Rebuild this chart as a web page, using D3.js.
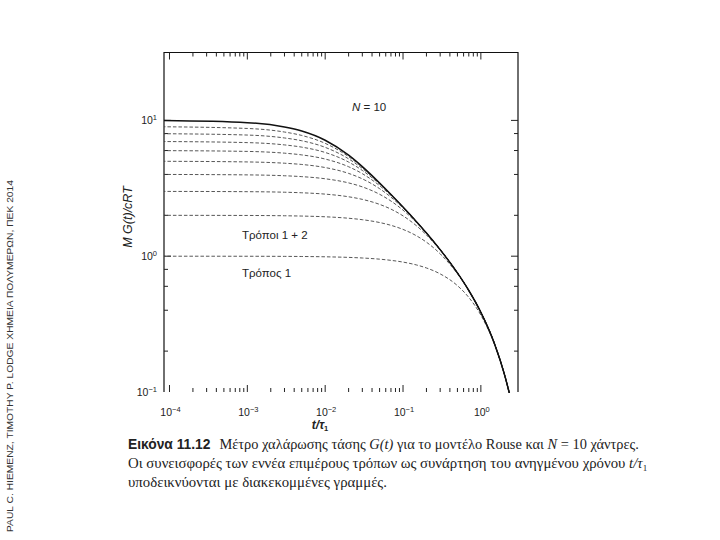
<!DOCTYPE html>
<html>
<head>
<meta charset="utf-8">
<script src="https://cdn.jsdelivr.net/npm/d3@7"></script>
<style>
  body { margin: 0; background: #fff; }
  svg { display: block; }
</style>
</head>
<body>
<svg id="chart" width="720" height="540"></svg>
<script>
// reduced time t/τ1 where the curves were read
const tRatio = [0.00008, 0.001, 0.003, 0.005, 0.01, 0.02, 0.03, 0.05, 0.07, 0.1, 0.15, 0.2, 0.3, 0.5, 0.7, 1, 1.5, 2, 2.5, 3]
// M G(t)/cRT, partial sums of modes 1..k (dashed) and all 10 modes (solid)
const modes1 = [1.00, 0.999, 0.997, 0.995, 0.990, 0.980, 0.970, 0.951, 0.932, 0.905, 0.861, 0.819, 0.741, 0.607, 0.497, 0.368, 0.223, 0.135, 0.082, 0.050]
const modes2 = [2.00, 1.995, 1.985, 1.975, 1.951, 1.903, 1.857, 1.770, 1.688, 1.575, 1.410, 1.268, 1.042, 0.742, 0.557, 0.386, 0.226, 0.136, 0.082, 0.050]
const modes3 = [3.00, 2.986, 2.959, 2.931, 2.865, 2.739, 2.621, 2.408, 2.221, 1.982, 1.669, 1.433, 1.109, 0.753, 0.559, 0.386, 0.226, 0.136, 0.082, 0.050]
const modes4 = [4.00, 3.970, 3.912, 3.854, 3.717, 3.465, 3.240, 2.857, 2.547, 2.184, 1.760, 1.474, 1.117, 0.753, 0.559, 0.386, 0.226, 0.136, 0.082, 0.050]
const modes5 = [5.00, 4.945, 4.839, 4.737, 4.496, 4.071, 3.712, 3.143, 2.721, 2.266, 1.783, 1.481, 1.118, 0.753, 0.559, 0.386, 0.226, 0.136, 0.082, 0.050]
const modes6 = [5.99, 5.910, 5.737, 5.572, 5.193, 4.558, 4.052, 3.309, 2.801, 2.293, 1.788, 1.482, 1.118, 0.753, 0.559, 0.386, 0.226, 0.136, 0.082, 0.050]
const modes7 = [6.99, 6.862, 6.600, 6.355, 5.806, 4.933, 4.282, 3.395, 2.834, 2.300, 1.788, 1.482, 1.118, 0.753, 0.559, 0.386, 0.226, 0.136, 0.082, 0.050]
const modes8 = [7.98, 7.800, 7.425, 7.081, 6.333, 5.211, 4.428, 3.436, 2.845, 2.302, 1.788, 1.482, 1.118, 0.753, 0.559, 0.386, 0.226, 0.136, 0.082, 0.050]
const modes9 = [8.98, 8.722, 8.210, 7.748, 6.778, 5.409, 4.516, 3.453, 2.848, 2.302, 1.788, 1.482, 1.118, 0.753, 0.559, 0.386, 0.226, 0.136, 0.082, 0.050]
const modesAll = [9.97, 9.627, 8.950, 8.355, 7.146, 5.545, 4.566, 3.460, 2.849, 2.302, 1.788, 1.482, 1.118, 0.753, 0.559, 0.386, 0.226, 0.136, 0.082, 0.050]
const dashedSeries = [modes1, modes2, modes3, modes4, modes5, modes6, modes7, modes8, modes9]

// ticks
const xMajor = [1e-4, 1e-3, 1e-2, 1e-1, 1]
const xMajorExp = ['−4', '−3', '−2', '−1', '0']
const xMinorMult = [2, 3, 4, 5, 6, 7, 8, 9]
const yMajor = [10, 1, 0.1]
const yMajorExp = ['1', '0', '−1']
const yMinor = [0.2, 0.4, 0.6, 0.8, 2, 4, 6, 8]

const svg = d3.select('#chart')
const plotLeft = 164
const plotRight = 518
const plotTop = 52.5
const plotBottom = 392

const x = d3.scaleLog().domain([8.5e-5, 3]).range([plotLeft, plotRight])
const y = d3.scaleLog().domain([0.1, Math.pow(10, 1.5)]).range([plotBottom, plotTop])

const sans = 'Liberation Sans, Arial, sans-serif'
const serif = 'Liberation Serif, Times New Roman, serif'

// clip for the curves
svg.append('defs').append('clipPath').attr('id', 'plotClip')
  .append('rect')
  .attr('x', plotLeft).attr('y', plotTop)
  .attr('width', plotRight - plotLeft).attr('height', plotBottom - plotTop + 1)

// frame (no line along the bottom in the original)
svg.append('path')
  .attr('d', `M${plotLeft},${plotBottom}V${plotTop}H${plotRight}V${plotBottom}`)
  .attr('fill', 'none')
  .attr('stroke', '#111')
  .attr('stroke-width', 1.2)

// x ticks, inward on bottom and top
const xMinor = []
xMajor.slice(0, 4).forEach(m => xMinorMult.forEach(k => xMinor.push(m * k)))
const tickG = svg.append('g').attr('stroke', '#222').attr('stroke-width', 1)
xMinor.forEach(v => {
  tickG.append('line').attr('x1', x(v)).attr('x2', x(v)).attr('y1', plotBottom).attr('y2', plotBottom - 4)
  tickG.append('line').attr('x1', x(v)).attr('x2', x(v)).attr('y1', plotTop).attr('y2', plotTop + 4)
})
xMajor.forEach(v => {
  tickG.append('line').attr('x1', x(v)).attr('x2', x(v)).attr('y1', plotBottom).attr('y2', plotBottom - 7)
  tickG.append('line').attr('x1', x(v)).attr('x2', x(v)).attr('y1', plotTop).attr('y2', plotTop + 7)
})
// y ticks, inward on left and right
yMinor.forEach(v => {
  tickG.append('line').attr('x1', plotLeft).attr('x2', plotLeft + 4).attr('y1', y(v)).attr('y2', y(v))
  tickG.append('line').attr('x1', plotRight).attr('x2', plotRight - 4).attr('y1', y(v)).attr('y2', y(v))
})
yMajor.slice(0, 2).forEach(v => {
  tickG.append('line').attr('x1', plotLeft).attr('x2', plotLeft + 7).attr('y1', y(v)).attr('y2', y(v))
  tickG.append('line').attr('x1', plotRight).attr('x2', plotRight - 7).attr('y1', y(v)).attr('y2', y(v))
})

// tick labels
xMajor.forEach((v, i) => {
  const t = svg.append('text')
    .attr('x', x(v) + 1)
    .attr('y', 416)
    .attr('text-anchor', 'middle')
    .attr('font-family', sans)
    .attr('font-size', 10.5)
    .attr('fill', '#222')
  t.append('tspan').text('10')
  t.append('tspan').attr('dy', -4).attr('font-size', 7.5).text(xMajorExp[i])
})
yMajor.forEach((v, i) => {
  const t = svg.append('text')
    .attr('x', 157)
    .attr('y', y(v) + 4)
    .attr('text-anchor', 'end')
    .attr('font-family', sans)
    .attr('font-size', 10.5)
    .attr('fill', '#222')
  t.append('tspan').text('10')
  t.append('tspan').attr('dy', -4).attr('font-size', 7.5).text(yMajorExp[i])
})

// axis titles
const xTitle = svg.append('text')
  .attr('x', 320).attr('y', 429)
  .attr('text-anchor', 'middle')
  .attr('font-family', sans)
  .attr('font-size', 12)
  .attr('font-style', 'italic')
  .attr('font-weight', 'bold')
  .attr('fill', '#222')
xTitle.append('tspan').text('t/τ')
xTitle.append('tspan').attr('dy', 2).attr('font-size', 7.5).attr('font-style', 'normal').text('1')

svg.append('text')
  .attr('transform', 'translate(132,217) rotate(-90)')
  .attr('text-anchor', 'middle')
  .attr('font-family', sans)
  .attr('font-size', 12.5)
  .attr('font-style', 'italic')
  .attr('fill', '#222')
  .text('M G(t)/cRT')

// curves
const line = d3.line()
  .x((d, i) => x(tRatio[i]))
  .y(d => y(d))
  .curve(d3.curveMonotoneX)

const curves = svg.append('g').attr('clip-path', 'url(#plotClip)')
curves.selectAll('.dashed')
  .data(dashedSeries)
  .enter().append('path')
  .attr('class', 'dashed')
  .attr('d', line)
  .attr('fill', 'none')
  .attr('stroke', '#444')
  .attr('stroke-width', 0.9)
  .attr('stroke-dasharray', '3.5,2')
curves.append('path')
  .datum(modesAll)
  .attr('d', line)
  .attr('fill', 'none')
  .attr('stroke', '#111')
  .attr('stroke-width', 1.5)

// annotations
const nLabel = svg.append('text')
  .attr('x', 352).attr('y', 111)
  .attr('font-family', sans)
  .attr('font-size', 11.5)
  .attr('fill', '#222')
nLabel.append('tspan').attr('font-style', 'italic').text('N')
nLabel.append('tspan').text(' = 10')

svg.append('text')
  .attr('x', 242).attr('y', 239)
  .attr('font-family', sans)
  .attr('font-size', 11.5)
  .attr('fill', '#222')
  .text('Τρόποι 1 + 2')
svg.append('text')
  .attr('x', 242).attr('y', 277)
  .attr('font-family', sans)
  .attr('font-size', 11.5)
  .attr('fill', '#222')
  .text('Τρόπος 1')

// credit along the left edge
svg.append('text')
  .attr('transform', 'translate(13,532) rotate(-90)')
  .attr('font-family', sans)
  .attr('font-size', 9.5)
  .attr('fill', '#333')
  .attr('textLength', 352)
  .attr('lengthAdjust', 'spacingAndGlyphs')
  .text('PAUL C. HIEMENZ, TIMOTHY P. LODGE ΧΗΜΕΙΑ ΠΟΛΥΜΕΡΩΝ, ΠΕΚ 2014')

// caption
const cap1 = svg.append('text')
  .attr('x', 128).attr('y', 449)
  .attr('font-family', serif)
  .attr('font-size', 14.4)
  .attr('fill', '#222')
cap1.append('tspan').attr('font-family', sans).attr('font-weight', 'bold').attr('font-size', 13.8).text('Εικόνα 11.12')
cap1.append('tspan').attr('dx', 9).text('Μέτρο χαλάρωσης τάσης ')
cap1.append('tspan').attr('font-style', 'italic').text('G(t)')
cap1.append('tspan').text(' για το μοντέλο Rouse και ')
cap1.append('tspan').attr('font-style', 'italic').text('N')
cap1.append('tspan').text(' = 10 χάντρες.')

const cap2 = svg.append('text')
  .attr('x', 128).attr('y', 468)
  .attr('font-family', serif)
  .attr('font-size', 14.8)
  .attr('fill', '#222')
cap2.append('tspan').text('Οι συνεισφορές των εννέα επιμέρους τρόπων ως συνάρτηση του ανηγμένου χρόνου ')
cap2.append('tspan').attr('font-style', 'italic').text('t/τ')
cap2.append('tspan').attr('dy', 3).attr('font-size', 9).text('1')

svg.append('text')
  .attr('x', 128).attr('y', 487)
  .attr('font-family', serif)
  .attr('font-size', 14.8)
  .attr('fill', '#222')
  .text('υποδεικνύονται με διακεκομμένες γραμμές.')
</script>
</body>
</html>
